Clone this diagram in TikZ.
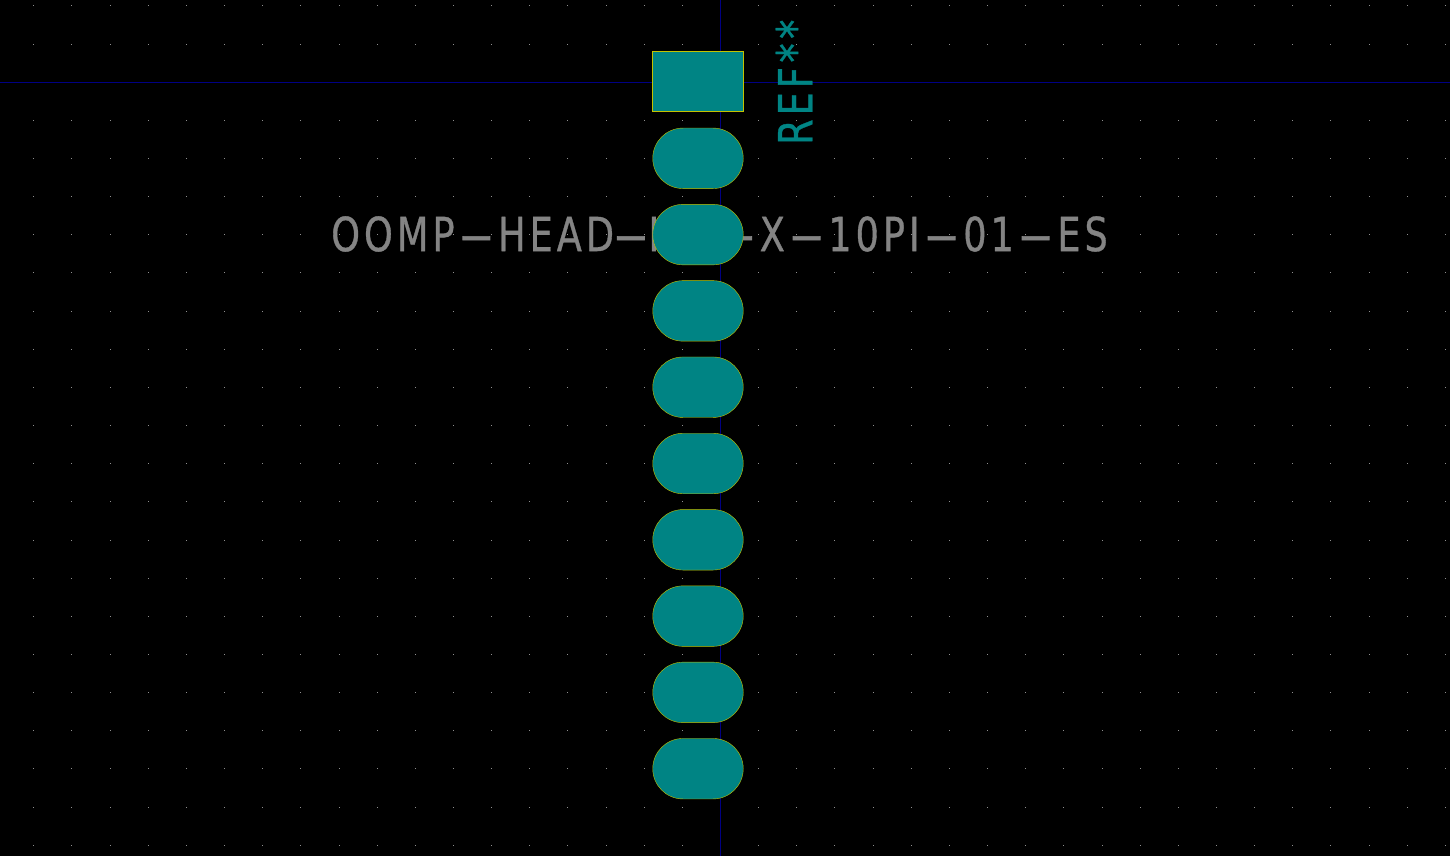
\documentclass[tikz,border=0pt]{standalone}
\usepackage{fontspec}
\setmainfont[FakeStretch=0.78,FakeBold=0.7,LetterSpace=8.5]{DejaVu Sans}
\usetikzlibrary{shapes.misc}
\definecolor{padteal}{RGB}{0,132,132}
\definecolor{axisblue}{RGB}{0,0,132}
\definecolor{padedge}{RGB}{194,194,0}
\definecolor{fabgray}{RGB}{132,132,132}
\newcommand{\hy}{\kern3.2pt\scalebox{2.8}[1]{-}\kern3.2pt}
\newcommand{\bigstar}{\kern4.5pt\scalebox{1.05}{*}}

\begin{document}
\begin{tikzpicture}[x=1pt,y=-1pt]
    \tikzset{
        padsquare/.style={draw=padedge,line width=1pt,fill=padteal,rectangle,inner sep=0pt,minimum width=90.5pt,minimum height=60pt},
        padoval/.style={draw=padedge,line width=.4pt,fill=padteal,rounded rectangle,rounded rectangle arc length=180,inner sep=0pt,minimum width=90.5pt,minimum height=60.5pt},
        axisline/.style={draw=axisblue,line width=1.5pt},
        griddot/.style={fill=fabgray!90!white},
        fabtext/.style={inner sep=0pt,font=\fontsize{47}{47}\selectfont}
    }
    \fill[black] (0,0) rectangle (1450,856);
    \useasboundingbox (0,0) rectangle (1450,856);

    % grid
    \foreach \row in {0,...,22}
        \foreach \col in {0,...,37}
            \fill[griddot] ({33.8+38.15*\col-.5},{5.9+38.15*\row-.5}) rectangle ++(1,1);

    % axes
    \coordinate (xleft) at (0,82.5);
    \coordinate (xright) at (1450,82.5);
    \coordinate (ytop) at (720.5,0);
    \coordinate (ybottom) at (720.5,856);
    \draw[axisline] (xleft) -- (xright);
    \draw[axisline] (ytop) -- (ybottom);

    % fab text runs under the pads
    \node[fabtext,anchor=west,text=fabgray] (value) at (331,234) {OOMP\hy HEAD\kern-5pt\hy\kern-4pt I};
    \node[fabtext,anchor=east,text=fabgray] (valueend) at (1108,234) {\hy X\hy 10PI\hy 01\hy ES};

    \node[fabtext,rotate=90,anchor=west,text=padteal] (ref) at (794,145) {REF\bigstar\bigstar};

    % pads
    \node[padsquare] (pad1) at (698,82) {};
    \foreach \i in {2,...,10}
        \node[padoval] (pad\i) at (698,{82+76.3*(\i-1)}) {};
\end{tikzpicture}
\end{document}
